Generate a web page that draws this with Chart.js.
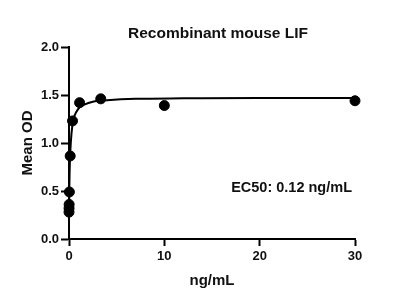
<!DOCTYPE html>
<html>
<head>
<meta charset="utf-8">
<script src="https://cdn.jsdelivr.net/npm/chart.js@4/dist/chart.umd.min.js"></script>
<style>
  html, body { margin: 0; padding: 0; background: #fff; }
  #wrap { width: 400px; height: 303px; }
</style>
</head>
<body>
<div id="wrap"><canvas id="lifChart" width="400" height="303"></canvas></div>
<script>
// measured points (ng/mL vs Mean OD)
const doseX = [30, 10, 3.33, 1.11, 0.37, 0.123, 0.041, 0.0137, 0.0046, 0.0015];
const meanOD = [1.44, 1.39, 1.46, 1.42, 1.23, 0.865, 0.49, 0.36, 0.32, 0.28];

// fitted curve
const curveX = [0, 0.02, 0.05, 0.1, 0.2, 0.35, 0.5, 0.75, 1.1, 1.6, 2.5, 4, 7, 12, 20, 30];
const curveY = [0.26, 0.40, 0.62, 0.82, 1.02, 1.18, 1.26, 1.32, 1.37, 1.40, 1.43, 1.445, 1.46, 1.465, 1.47, 1.47];

const xTicks = [0, 10, 20, 30];
const yTicks = [0, 0.5, 1.0, 1.5, 2.0];

const chartTitle = 'Recombinant mouse LIF';
const xTitle = 'ng/mL';
const yTitle = 'Mean OD';
const ec50Label = 'EC50: 0.12 ng/mL';
const ec50Pos = { x: 30, y: 0.53 };

const fontFam = '"Liberation Sans", Arial, sans-serif';

// title over the plot area + the EC50 note
const extraText = {
    id: 'extraText',
    afterDatasetsDraw(chart) {
        const ctx = chart.ctx;
        const area = chart.chartArea;
        ctx.save();
        ctx.fillStyle = '#111';
        ctx.textBaseline = 'middle';

        ctx.font = 'bold 15.5px ' + fontFam;
        ctx.textAlign = 'center';
        ctx.fillText(chartTitle, (area.left + area.right) / 2 + 6, area.top - 13);

        const px = chart.scales.x.getPixelForValue(ec50Pos.x);
        const py = chart.scales.y.getPixelForValue(ec50Pos.y);
        ctx.font = 'bold 14.5px ' + fontFam;
        ctx.textAlign = 'right';
        ctx.fillText(ec50Label, px - 3, py);
        ctx.restore();
    }
};

const ctx = document.getElementById('lifChart').getContext('2d');
new Chart(ctx, {
    type: 'scatter',
    data: {
        datasets: [
            {
                label: 'fit',
                data: curveX.map((x, i) => ({ x: x, y: curveY[i] })),
                showLine: true,
                borderColor: '#000',
                borderWidth: 2,
                pointRadius: 0,
                cubicInterpolationMode: 'monotone',
                fill: false
            },
            {
                label: 'data',
                data: doseX.map((x, i) => ({ x: x, y: meanOD[i] })),
                showLine: false,
                pointRadius: 5,
                pointBackgroundColor: '#000',
                pointBorderColor: '#000',
                clip: false
            }
        ]
    },
    plugins: [extraText],
    options: {
        responsive: false,
        animation: false,
        layout: { padding: { left: 0, right: 45, top: 47, bottom: 0 } },
        plugins: {
            legend: { display: false },
            tooltip: { enabled: false },
            title: { display: false }
        },
        scales: {
            x: {
                type: 'linear',
                min: 0,
                max: 30,
                afterFit: s => { s.height = 64; },
                afterBuildTicks: s => { s.ticks = xTicks.map(v => ({ value: v })); },
                ticks: {
                    color: '#111',
                    padding: 3,
                    maxRotation: 0,
                    font: { family: fontFam, size: 13, weight: 'bold' }
                },
                grid: { drawOnChartArea: false, tickLength: 7, tickColor: '#000', tickWidth: 2 },
                border: { color: '#000', width: 2 },
                title: {
                    display: true,
                    text: xTitle,
                    color: '#111',
                    font: { family: fontFam, size: 15, weight: 'bold' },
                    padding: { top: 0, bottom: 13 }
                }
            },
            y: {
                type: 'linear',
                min: 0,
                max: 2,
                afterFit: s => { s.width = 69; },
                afterBuildTicks: s => { s.ticks = yTicks.map(v => ({ value: v })); },
                ticks: {
                    color: '#111',
                    padding: 2,
                    callback: v => v.toFixed(1),
                    font: { family: fontFam, size: 13, weight: 'bold' }
                },
                grid: { drawOnChartArea: false, tickLength: 8, tickColor: '#000', tickWidth: 2 },
                border: { color: '#000', width: 2 },
                title: {
                    display: true,
                    text: yTitle,
                    color: '#111',
                    font: { family: fontFam, size: 15, weight: 'bold' },
                    padding: { top: 19, bottom: 0 }
                }
            }
        }
    }
});
</script>
</body>
</html>
